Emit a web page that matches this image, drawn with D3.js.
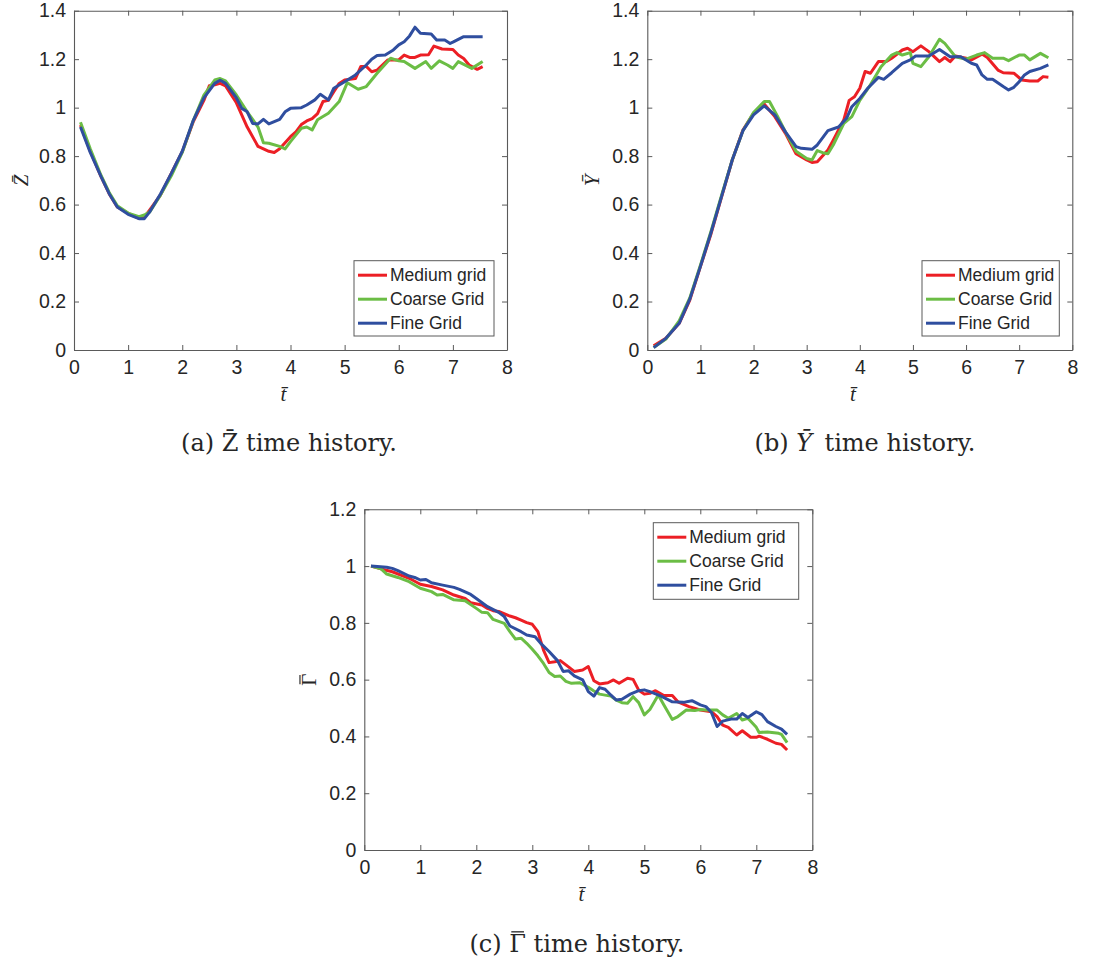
<!DOCTYPE html>
<html>
<head>
<meta charset="utf-8">
<script src="https://cdn.jsdelivr.net/npm/d3@7"></script>
<style>
  html, body { margin: 0; padding: 0; background: #fff; }
  svg { display: block; }
</style>
</head>
<body>
<svg id="chart" width="1111" height="961"></svg>
<script>
// ---------- DATA ----------
const seriesNames = ["Medium grid", "Coarse Grid", "Fine Grid"];
const xTicks = [0, 1, 2, 3, 4, 5, 6, 7, 8];
const yTicksZY = [0, 0.2, 0.4, 0.6, 0.8, 1, 1.2, 1.4];
const yTicksG = [0, 0.2, 0.4, 0.6, 0.8, 1, 1.2];

// Z-bar time history  [t, value]
const zMedium = [[0.12,0.928],[0.3,0.82],[0.5,0.715],[0.65,0.645],[0.8,0.59],[1.0,0.564],[1.2,0.543],[1.3,0.548],[1.4,0.578],[1.6,0.64],[1.8,0.73],[2.0,0.818],[2.2,0.94],[2.4,1.03],[2.5,1.09],[2.6,1.094],[2.7,1.1],[2.8,1.09],[3.0,1.02],[3.2,0.92],[3.4,0.84],[3.6,0.82],[3.7,0.815],[3.8,0.83],[4.0,0.88],[4.1,0.9],[4.2,0.93],[4.3,0.945],[4.4,0.955],[4.5,0.975],[4.6,1.025],[4.7,1.03],[4.8,1.066],[4.9,1.1],[5.0,1.114],[5.2,1.12],[5.3,1.17],[5.4,1.17],[5.5,1.148],[5.6,1.155],[5.8,1.197],[6.0,1.197],[6.1,1.217],[6.2,1.207],[6.3,1.207],[6.4,1.217],[6.55,1.218],[6.65,1.254],[6.8,1.242],[7.0,1.24],[7.1,1.217],[7.2,1.203],[7.3,1.176],[7.45,1.158],[7.55,1.169]];
const zCoarse = [[0.12,0.94],[0.3,0.83],[0.5,0.72],[0.65,0.65],[0.8,0.595],[1.0,0.565],[1.2,0.55],[1.3,0.557],[1.4,0.57],[1.6,0.64],[1.8,0.72],[2.0,0.815],[2.2,0.945],[2.4,1.052],[2.6,1.114],[2.7,1.12],[2.8,1.11],[3.0,1.052],[3.2,0.983],[3.4,0.92],[3.5,0.855],[3.6,0.853],[3.8,0.84],[3.9,0.83],[4.0,0.86],[4.2,0.915],[4.3,0.92],[4.4,0.908],[4.5,0.95],[4.7,0.977],[4.9,1.025],[5.05,1.103],[5.25,1.076],[5.4,1.087],[5.6,1.142],[5.85,1.204],[6.0,1.193],[6.1,1.19],[6.3,1.162],[6.5,1.19],[6.6,1.162],[6.75,1.193],[6.9,1.176],[7.0,1.162],[7.1,1.19],[7.35,1.162],[7.55,1.19]];
const zFine = [[0.12,0.92],[0.3,0.815],[0.5,0.715],[0.65,0.645],[0.8,0.59],[1.0,0.56],[1.2,0.542],[1.3,0.542],[1.4,0.57],[1.6,0.645],[1.8,0.73],[2.0,0.82],[2.2,0.945],[2.4,1.04],[2.6,1.1],[2.7,1.113],[2.8,1.1],[3.0,1.04],[3.1,0.997],[3.2,0.983],[3.3,0.935],[3.4,0.933],[3.5,0.952],[3.6,0.933],[3.8,0.952],[3.9,0.983],[4.0,0.997],[4.2,1.0],[4.3,1.011],[4.45,1.032],[4.55,1.055],[4.7,1.032],[4.8,1.08],[5.0,1.107],[5.2,1.135],[5.4,1.176],[5.5,1.2],[5.6,1.215],[5.75,1.217],[5.9,1.238],[6.0,1.259],[6.1,1.272],[6.2,1.296],[6.3,1.332],[6.4,1.307],[6.6,1.304],[6.7,1.279],[6.85,1.279],[6.95,1.265],[7.0,1.27],[7.2,1.293],[7.55,1.293]];

// Y-bar time history
const yMedium = [[0.12,0.017],[0.35,0.048],[0.6,0.11],[0.8,0.206],[1.0,0.344],[1.2,0.48],[1.4,0.633],[1.6,0.784],[1.8,0.908],[2.0,0.977],[2.2,1.015],[2.4,0.963],[2.6,0.894],[2.8,0.81],[3.0,0.784],[3.1,0.774],[3.2,0.777],[3.4,0.825],[3.5,0.866],[3.7,0.95],[3.8,1.03],[3.9,1.045],[4.0,1.08],[4.1,1.149],[4.2,1.142],[4.35,1.19],[4.5,1.19],[4.6,1.204],[4.8,1.238],[4.9,1.245],[5.0,1.231],[5.15,1.255],[5.3,1.231],[5.5,1.19],[5.6,1.207],[5.7,1.19],[5.8,1.213],[6.0,1.204],[6.1,1.197],[6.3,1.221],[6.4,1.207],[6.6,1.155],[6.7,1.144],[6.9,1.142],[7.05,1.114],[7.2,1.11],[7.35,1.11],[7.45,1.128],[7.55,1.125]];
const yCoarse = [[0.12,0.01],[0.35,0.045],[0.6,0.12],[0.8,0.215],[1.0,0.35],[1.2,0.49],[1.4,0.64],[1.6,0.785],[1.8,0.905],[2.0,0.98],[2.2,1.025],[2.3,1.025],[2.45,0.965],[2.6,0.9],[2.8,0.82],[3.0,0.79],[3.1,0.784],[3.2,0.823],[3.3,0.814],[3.4,0.81],[3.5,0.846],[3.7,0.935],[3.85,0.963],[4.0,1.03],[4.2,1.094],[4.4,1.169],[4.6,1.217],[4.7,1.227],[4.8,1.217],[4.95,1.227],[5.0,1.183],[5.15,1.169],[5.3,1.21],[5.5,1.282],[5.6,1.265],[5.8,1.21],[6.0,1.2],[6.2,1.217],[6.35,1.227],[6.5,1.204],[6.7,1.204],[6.8,1.194],[7.0,1.217],[7.1,1.217],[7.2,1.197],[7.4,1.224],[7.55,1.206]];
const yFine = [[0.12,0.01],[0.35,0.048],[0.6,0.11],[0.8,0.21],[1.0,0.345],[1.2,0.485],[1.4,0.635],[1.6,0.785],[1.8,0.905],[2.0,0.97],[2.2,1.007],[2.4,0.97],[2.6,0.9],[2.8,0.839],[2.9,0.832],[3.1,0.828],[3.2,0.846],[3.4,0.905],[3.6,0.92],[3.75,0.956],[3.85,1.004],[4.0,1.038],[4.15,1.08],[4.35,1.125],[4.45,1.117],[4.6,1.144],[4.8,1.183],[4.95,1.197],[5.05,1.213],[5.3,1.213],[5.5,1.24],[5.7,1.21],[5.9,1.21],[6.1,1.183],[6.2,1.176],[6.3,1.135],[6.4,1.117],[6.5,1.117],[6.7,1.087],[6.8,1.073],[6.9,1.084],[7.0,1.107],[7.1,1.135],[7.2,1.149],[7.4,1.162],[7.55,1.176]];

// Gamma-bar time history
const gMedium = [[0.12,1.0],[0.3,0.99],[0.5,0.98],[0.8,0.957],[1.0,0.936],[1.2,0.928],[1.4,0.916],[1.6,0.898],[1.8,0.886],[1.9,0.871],[2.1,0.863],[2.2,0.851],[2.3,0.843],[2.4,0.84],[2.6,0.824],[2.7,0.818],[2.8,0.81],[2.9,0.801],[3.0,0.795],[3.1,0.769],[3.2,0.704],[3.3,0.66],[3.4,0.663],[3.5,0.667],[3.6,0.652],[3.75,0.629],[3.9,0.634],[4.0,0.646],[4.1,0.596],[4.2,0.585],[4.35,0.589],[4.45,0.599],[4.55,0.587],[4.7,0.605],[4.8,0.601],[4.9,0.563],[5.0,0.549],[5.1,0.552],[5.2,0.561],[5.35,0.544],[5.5,0.544],[5.6,0.522],[5.8,0.505],[6.0,0.493],[6.2,0.487],[6.3,0.47],[6.4,0.44],[6.5,0.432],[6.65,0.405],[6.75,0.42],[6.9,0.397],[7.0,0.397],[7.05,0.401],[7.2,0.39],[7.35,0.376],[7.45,0.372],[7.55,0.352]];
const gCoarse = [[0.12,1.0],[0.3,0.99],[0.4,0.972],[0.6,0.96],[0.8,0.945],[1.0,0.922],[1.2,0.91],[1.3,0.898],[1.4,0.9],[1.6,0.881],[1.8,0.878],[2.0,0.851],[2.1,0.837],[2.2,0.836],[2.3,0.812],[2.5,0.798],[2.6,0.769],[2.7,0.743],[2.8,0.746],[2.9,0.728],[3.0,0.707],[3.1,0.684],[3.2,0.657],[3.3,0.625],[3.4,0.611],[3.5,0.613],[3.6,0.594],[3.7,0.587],[3.85,0.589],[4.0,0.573],[4.1,0.56],[4.2,0.549],[4.4,0.542],[4.5,0.528],[4.6,0.519],[4.7,0.517],[4.8,0.54],[4.9,0.519],[5.0,0.476],[5.1,0.495],[5.25,0.546],[5.35,0.511],[5.5,0.46],[5.6,0.47],[5.75,0.493],[5.9,0.491],[6.0,0.495],[6.1,0.493],[6.3,0.493],[6.4,0.476],[6.5,0.464],[6.65,0.481],[6.75,0.458],[6.85,0.464],[7.0,0.432],[7.05,0.414],[7.2,0.416],[7.4,0.411],[7.45,0.407],[7.55,0.378]];
const gFine = [[0.12,1.0],[0.4,0.996],[0.5,0.992],[0.6,0.984],[0.8,0.965],[0.9,0.96],[1.0,0.951],[1.1,0.953],[1.2,0.941],[1.4,0.933],[1.6,0.925],[1.7,0.918],[1.9,0.9],[2.0,0.886],[2.2,0.857],[2.4,0.837],[2.5,0.822],[2.6,0.789],[2.8,0.769],[2.9,0.757],[3.05,0.751],[3.15,0.728],[3.3,0.699],[3.45,0.667],[3.55,0.629],[3.65,0.631],[3.75,0.613],[3.9,0.599],[4.0,0.558],[4.1,0.542],[4.2,0.572],[4.3,0.566],[4.4,0.546],[4.5,0.528],[4.6,0.531],[4.75,0.549],[4.9,0.561],[5.0,0.564],[5.1,0.558],[5.3,0.542],[5.5,0.522],[5.7,0.52],[5.85,0.526],[6.0,0.511],[6.1,0.505],[6.2,0.484],[6.3,0.435],[6.4,0.454],[6.55,0.461],[6.65,0.461],[6.75,0.481],[6.85,0.467],[7.0,0.487],[7.1,0.477],[7.2,0.452],[7.35,0.435],[7.45,0.426],[7.55,0.407]];

// ---------- STYLE ----------
const colors = ["#ec1f25", "#6bbd45", "#2f4e9f"];
const axisColor = "#5a5a5a";
const textColor = "#262626";
const sansFont = "'Liberation Sans', Arial, Helvetica, sans-serif";
const serifFont = "'DejaVu Serif', serif";
const mathFont = "'Liberation Serif', 'DejaVu Serif', serif";

const svg = d3.select("#chart");

// draw an overbar above character `idx` of a text element (in that element's parent coords)
function overbar(parent, textSel, idx, barY, fs) {
  const ext = textSel.node().getExtentOfChar(idx);
  parent.append("line")
    .attr("x1", ext.x + ext.width * 0.12).attr("x2", ext.x + ext.width * 0.88)
    .attr("y1", barY).attr("y2", barY)
    .attr("stroke", textColor).attr("stroke-width", Math.max(1, fs * 0.055));
}

function drawPanel(cfg) {
  const g = svg.append("g");
  const x = d3.scaleLinear().domain([0, 8]).range([cfg.left, cfg.right]);
  const y = d3.scaleLinear().domain(cfg.yDomain).range([cfg.bottom, cfg.top]);
  const fmt = d => String(+d.toFixed(1));
  const tickLen = 5;

  const bx = g.append("g").attr("transform", `translate(0,${cfg.bottom})`)
    .call(d3.axisBottom(x).tickValues(xTicks).tickFormat(fmt).tickSizeInner(-tickLen).tickSizeOuter(0).tickPadding(10));
  const ty = g.append("g").attr("transform", `translate(0,${cfg.top})`)
    .call(d3.axisTop(x).tickValues(xTicks).tickFormat("").tickSizeInner(-tickLen).tickSizeOuter(0));
  const ly = g.append("g").attr("transform", `translate(${cfg.left},0)`)
    .call(d3.axisLeft(y).tickValues(cfg.yTicks).tickFormat(fmt).tickSizeInner(-tickLen).tickSizeOuter(0).tickPadding(8));
  const ry = g.append("g").attr("transform", `translate(${cfg.right},0)`)
    .call(d3.axisRight(y).tickValues(cfg.yTicks).tickFormat("").tickSizeInner(-tickLen).tickSizeOuter(0));
  [bx, ty, ly, ry].forEach(a => {
    a.select(".domain").attr("stroke", axisColor).attr("stroke-width", 1.1);
    a.selectAll(".tick line").attr("stroke", axisColor).attr("stroke-width", 1);
    a.selectAll(".tick text").attr("fill", textColor).attr("font-family", sansFont).attr("font-size", 19.5);
  });
  bx.selectAll(".tick text").attr("dy", "0.71em");

  const line = d3.line().x(d => x(d[0])).y(d => y(d[1]));
  cfg.series.forEach((s, i) => {
    g.append("path").datum(s).attr("d", line)
      .attr("fill", "none").attr("stroke", colors[i]).attr("stroke-width", 3)
      .attr("stroke-linejoin", "round").attr("stroke-linecap", "butt");
  });

  // x label
  g.append("text").attr("x", (cfg.left + cfg.right) / 2 - 7).attr("y", cfg.bottom + 51)
    .attr("text-anchor", "middle").attr("font-family", mathFont).attr("font-style", "italic")
    .attr("font-size", 21).attr("fill", textColor).text("t\u0304");
  // y label (rotated)
  const yl = g.append("g").attr("transform", `translate(${cfg.ylabX},${(cfg.top + cfg.bottom) / 2}) rotate(-90)`);
  const ylFs = 21;
  const ylt = yl.append("text").attr("x", 0).attr("y", ylFs * 0.35)
    .attr("text-anchor", "middle").attr("font-family", mathFont)
    .attr("font-style", cfg.ylabItalic ? "italic" : "normal")
    .attr("font-size", ylFs).attr("fill", textColor).text(cfg.ylab);
  if (cfg.ylabBar) overbar(yl, ylt, 0, ylFs * 0.35 - ylFs * 0.78, ylFs);

  // legend
  const L = cfg.legend;
  g.append("rect").attr("x", L.x).attr("y", L.y).attr("width", L.w).attr("height", L.h)
    .attr("fill", "#fff").attr("stroke", axisColor).attr("stroke-width", 1);
  seriesNames.forEach((name, i) => {
    const yy = L.y + 14.5 + i * 24;
    g.append("line").attr("x1", L.x + 4).attr("x2", L.x + 33).attr("y1", yy).attr("y2", yy)
      .attr("stroke", colors[i]).attr("stroke-width", 3);
    g.append("text").attr("x", L.x + 36).attr("y", yy).attr("dy", "0.35em")
      .attr("font-family", sansFont).attr("font-size", 17.5).attr("fill", textColor).text(name);
  });

  // caption
  const capFs = 24;
  const cap = svg.append("text").attr("x", cfg.capX).attr("y", cfg.capY).attr("text-anchor", "middle")
    .attr("font-family", serifFont).attr("font-size", capFs).attr("fill", textColor);
  cap.append("tspan").text(cfg.cap[0]);
  cap.append("tspan").attr("font-style", cfg.cap[2] ? "italic" : "normal").text(cfg.cap[1]);
  cap.append("tspan").text(cfg.cap[3]);
  if (cfg.capBar) overbar(svg, cap, cfg.cap[0].length, cfg.capY - capFs * 0.84, capFs);
}

drawPanel({
  left: 74, right: 507, top: 10.7, bottom: 350, yDomain: [0, 1.4], yTicks: yTicksZY,
  series: [zMedium, zCoarse, zFine], ylab: "Z\u0304", ylabItalic: true, ylabX: 21,
  legend: { x: 354, y: 260.7, w: 140, h: 75.3 },
  cap: ["(a) ", "Z\u0304", false, " time history."], capX: 289, capY: 451
});
drawPanel({
  left: 647.3, right: 1072.3, top: 10.7, bottom: 350, yDomain: [0, 1.4], yTicks: yTicksZY,
  series: [yMedium, yCoarse, yFine], ylab: "Y\u0304", ylabItalic: true, ylabX: 592,
  legend: { x: 922, y: 260.7, w: 137.3, h: 75.3 },
  cap: ["(b) ", "Y\u0304", true, "\u2009 time history."], capX: 865, capY: 451
});
drawPanel({
  left: 364.3, right: 812.3, top: 509.3, bottom: 850, yDomain: [0, 1.2], yTicks: yTicksG,
  series: [gMedium, gCoarse, gFine], ylab: "\u0393", ylabItalic: false, ylabBar: true, ylabX: 309,
  legend: { x: 653.3, y: 522.7, w: 145.4, h: 76.6 },
  cap: ["(c) ", "\u0393", false, " time history."], capBar: true, capX: 577, capY: 952
});
</script>
</body>
</html>
